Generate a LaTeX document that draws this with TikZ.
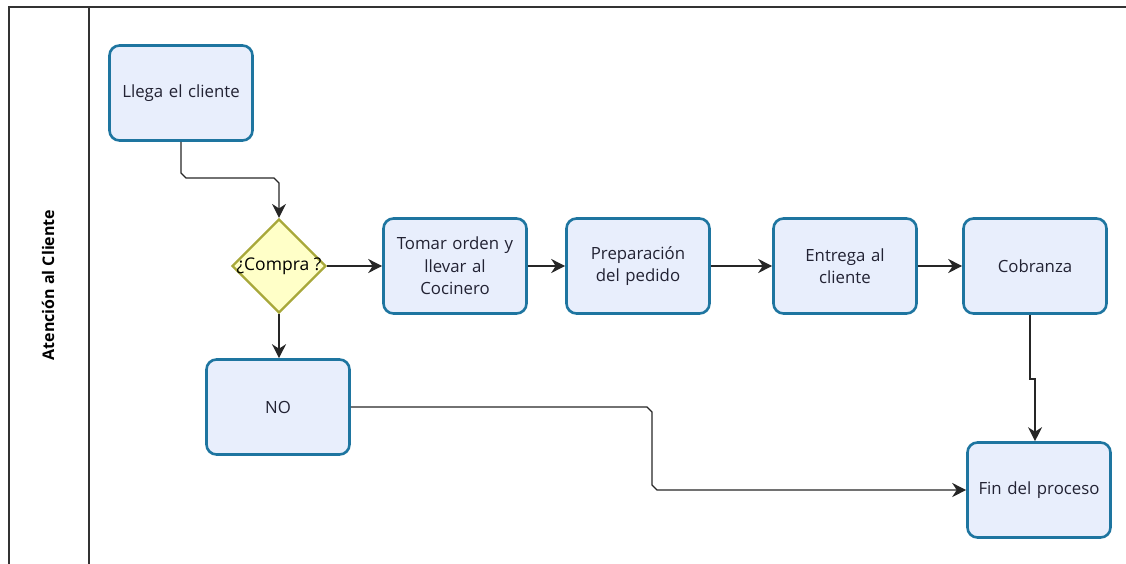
\documentclass[tikz,border=0pt]{standalone}
\usepackage{fontspec}
\setmainfont{Open Sans}
\usetikzlibrary{arrows.meta,shapes.geometric,calc}
\definecolor{boxfill}{HTML}{E8EEFC}
\definecolor{boxline}{HTML}{1E75A0}
\definecolor{dfill}{HTML}{FFFFC8}
\definecolor{dline}{HTML}{A8A83A}
\definecolor{txt}{HTML}{222233}
\tikzset{
  proc/.style={draw=boxline, fill=boxfill, line width=2.6pt, rounded corners=10pt,
    minimum width=143pt, minimum height=95pt, align=center, text=txt,
    font=\fontsize{16.8}{22.5}\selectfont, inner sep=0pt, text width=139pt},
  dec/.style={diamond, draw=dline, fill=dfill, line width=2.2pt, aspect=1,
    minimum width=94pt, minimum height=94pt, inner sep=0pt, text=black,
    font=\fontsize{17.5}{19}\selectfont},
  conn/.style={line width=1.4pt, draw=black!85, -{Stealth[length=14pt,width=14pt,inset=4.5pt]}},
  pool/.style={line width=1.4pt, draw=black!80}
}
\begin{document}
\begin{tikzpicture}[x=1pt,y=-1pt]
\useasboundingbox (0,0) rectangle (1126,564);
% pool
\draw[pool] (1126,7) -- (9,7) -- (9,570);
\draw[pool] (89,7) -- (89,570);
\node[rotate=90, font=\bfseries\fontsize{16}{18}\selectfont] (lane) at (48,285) {Atención al Cliente};
% nodes
\node[proc] (llega) at (181,93) {Llega el cliente};
\node[dec] (compra) at (279,266) {\hspace*{-6pt}¿Compra ?\hspace*{-6pt}};
\node[proc] (tomar) at (455,266) {Tomar orden y\\llevar al\\Cocinero};
\node[proc] (prep) at (638,266) {Preparación\\del pedido};
\node[proc] (entrega) at (845,266) {Entrega al\\cliente};
\node[proc] (cobra) at (1035,266) {Cobranza};
\node[proc] (no) at (278,407) {NO};
\node[proc] (fin) at (1039,490) {Fin del proceso};
% connectors
\draw[conn] (llega.south) -- (181,173) -- (186,178) -- (274,178) -- (279,183) -- (compra.north);
\draw[conn] (compra.east) -- (tomar.west);
\draw[conn] (tomar.east) -- (prep.west);
\draw[conn] (prep.east) -- (entrega.west);
\draw[conn] (entrega.east) -- (cobra.west);
\draw[conn] (compra.south) -- (compra.south |- no.north);
\draw[conn] (no.east) -- (647,407) -- (652,412) -- (652,485) -- (657,490) -- (fin.west);
\draw[conn] ($(cobra.south)+(-5,0)$) -- (1030,379) -- (1035,379) -- (1035,379 |- fin.north);
\end{tikzpicture}
\end{document}
